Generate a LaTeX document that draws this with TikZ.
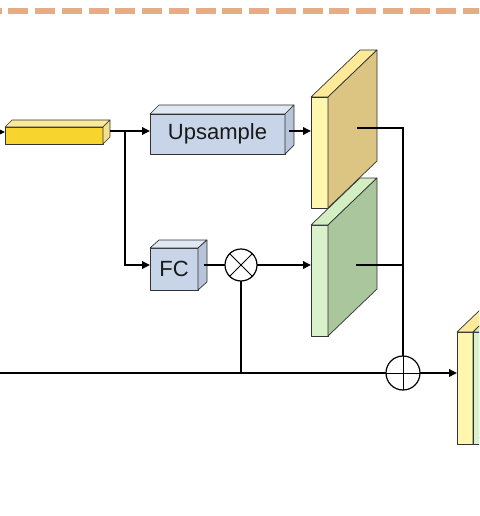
\documentclass[tikz,border=0pt]{standalone}
\usepackage{fontspec}
\setmainfont{Liberation Sans}
\usetikzlibrary{arrows.meta}

\definecolor{dashcol}{RGB}{228,172,135}
\definecolor{edgecol}{RGB}{50,50,50}
\definecolor{barfront}{RGB}{247,212,46}
\definecolor{bartop}{RGB}{252,234,155}
\definecolor{barside}{RGB}{245,224,145}
\definecolor{boxfront}{RGB}{200,212,232}
\definecolor{boxtop}{RGB}{224,232,244}
\definecolor{boxside}{RGB}{184,196,218}
\definecolor{yfront}{RGB}{255,247,174}
\definecolor{ytop}{RGB}{252,234,152}
\definecolor{yside}{RGB}{220,196,131}
\definecolor{gfront}{RGB}{218,242,204}
\definecolor{gtop}{RGB}{210,238,194}
\definecolor{gside}{RGB}{169,198,156}

% front face plus top and side faces of a box, shifted by (#2,#3)
\newcommand\cuboidfaces[5]{%
  \filldraw[fill=#4, face] (#1.north west) -- ([shift={(#2,#3)}]#1.north west)
    -- ([shift={(#2,#3)}]#1.north east) -- (#1.north east) -- cycle;
  \filldraw[fill=#5, face] (#1.north east) -- ([shift={(#2,#3)}]#1.north east)
    -- ([shift={(#2,#3)}]#1.south east) -- (#1.south east) -- cycle;
}

\tikzset{
  face/.style={draw=edgecol, line width=0.7pt, line join=round},
  front/.style={face, rectangle, inner sep=0pt, outer sep=0pt, text=black!90,
    font=\fontsize{22}{24}\selectfont},
  conn/.style={line width=1.8pt, black},
  arr/.style={conn, -{Triangle[length=8pt,width=7.5pt]}},
  opcirc/.style={circle, draw=black, line width=1.2pt, minimum size=#1, inner sep=0pt, outer sep=0pt, fill=white},
  dashline/.style={draw=dashcol, line width=6pt, dash pattern=on 20pt off 6.75pt}
}

\begin{document}
\begin{tikzpicture}[x=1pt,y=-1pt]
  \useasboundingbox (0,0) rectangle (479,516);
  \clip (0,0) rectangle (479,516);

  % separator
  \draw[dashline] (-18.45,11.5) -- (495,11.5);

  % input feature bar
  \node[front, fill=barfront, minimum width=98pt, minimum height=17pt] (bar) at (54,135.5) {};
  \cuboidfaces{bar}{7}{-7}{bartop}{barside}

  % upsample block
  \node[front, fill=boxfront, minimum width=135pt, minimum height=40pt] (up) at (217.5,134) {Upsample};
  \cuboidfaces{up}{9}{-9}{boxtop}{boxside}

  % fully connected block
  \node[front, fill=boxfront, minimum width=48pt, minimum height=42pt] (fc) at (174,269) {FC};
  \cuboidfaces{fc}{9}{-8}{boxtop}{boxside}

  % feature maps
  \node[front, fill=yfront, minimum width=17pt, minimum height=111pt] (s1) at (319.5,152.5) {};
  \cuboidfaces{s1}{49}{-47}{ytop}{yside}
  \node[front, fill=gfront, minimum width=17pt, minimum height=111pt] (s2) at (319.5,280.5) {};
  \cuboidfaces{s2}{49}{-47}{gtop}{gside}

  % output (concatenated) feature map
  \node[front, fill=yfront, minimum width=16pt, minimum height=112pt] (o1) at (465,388) {};
  \cuboidfaces{o1}{49}{-47}{ytop}{yside}
  \node[front, fill=gfront, minimum width=16pt, minimum height=112pt] (o2) at (481,388) {};
  \cuboidfaces{o2}{49}{-47}{gtop}{gside}

  % operators
  \node[opcirc=32pt, path picture={
      \draw[line width=0.9pt] (path picture bounding box.north west) -- (path picture bounding box.south east)
        (path picture bounding box.north east) -- (path picture bounding box.south west);}] (mul) at (241,265) {};
  \node[opcirc=34pt, path picture={
      \draw[line width=0.9pt] (path picture bounding box.north) -- (path picture bounding box.south)
        (path picture bounding box.west) -- (path picture bounding box.east);}] (add) at (403,373) {};

  % connection points
  \coordinate (inL) at (0,132);
  \coordinate (barR) at (110,131);
  \coordinate (split) at (125,131);
  \coordinate (upR) at (289,131);
  \coordinate (fcR) at (204,265);
  \coordinate (s1R) at (357,128);
  \coordinate (s2R) at (356,265);
  \coordinate (mainL) at (0,373);

  % connectors
  \draw[arr] (inL) -- (inL -| bar.west);
  \draw[arr] (barR) -- (barR -| up.west);
  \draw[arr] (split) |- (fc.west |- mul);
  \draw[arr] (upR) -- (upR -| s1.west);
  \draw[conn] (fcR) -- (mul);
  \draw[arr] (mul) -- (mul -| s2.west);
  \draw[conn] (mul) -- (mul |- mainL);
  \draw[conn] (mainL) -- (add);
  \draw[arr] (add) -- (add -| o1.west);
  \draw[conn] (s1R) -| (add);
  \draw[conn] (s2R) -- (s2R -| add);
\end{tikzpicture}
\end{document}
